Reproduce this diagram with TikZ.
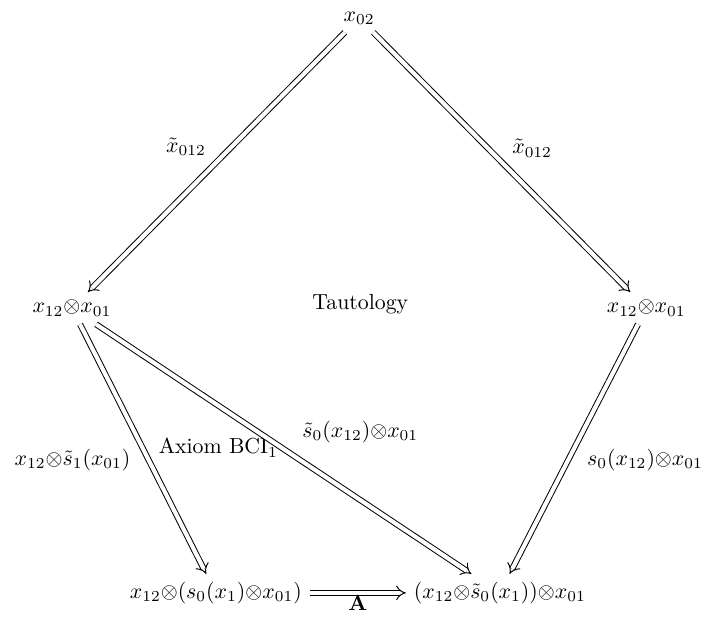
\documentclass[tikz,border=0pt]{standalone}
\usepackage{amsmath,amssymb}
\usetikzlibrary{arrows.meta,positioning,calc}

\begin{document}
\begin{tikzpicture}[
    obj/.style={inner sep=3.5pt},
    lbl/.style={inner sep=1pt},
    imp/.style={double,double distance=1.9pt,line width=0.45pt,-{Implies}}]
  \useasboundingbox (0,0) rectangle (11.40,9.95);
  \node[obj] (top) at (5.79,9.66) {$x_{02}$};
  \node[obj] (lft) at (1.16,4.98) {$x_{12}{\otimes}x_{01}$};
  \node[obj] (rgt) at (10.42,4.98) {$x_{12}{\otimes}x_{01}$};
  \node[obj] (bl) at (3.48,0.39) {$x_{12}{\otimes}(s_0(x_1){\otimes}x_{01})$};
  \node[obj] (br) at (8.06,0.39) {$(x_{12}{\otimes}\tilde{s}_0(x_1)){\otimes}x_{01}$};
  \node (taut) at (5.81,5.05) {Tautology};
  \node (bci) at (3.52,2.73) {Axiom BCI$_1$};
  % labels
  \node[lbl] (l1) at (3.00,7.58) {$\tilde{x}_{012}$};
  \node[lbl] (l2) at (8.58,7.56) {$\tilde{x}_{012}$};
  \node[lbl] (l3) at (1.17,2.53) {$x_{12}{\otimes}\tilde{s}_1(x_{01})$};
  \node[lbl] (l4) at (5.81,2.98) {$\tilde{s}_0(x_{12}){\otimes}x_{01}$};
  \node[lbl] (l5) at (10.40,2.53) {$s_0(x_{12}){\otimes}x_{01}$};
  \draw[imp] (top) -- (lft);
  \draw[imp] (top) -- (rgt);
  \draw[imp] (lft) -- (bl);
  \draw[imp] (lft) -- (br);
  \draw[imp] (rgt) -- (br);
  \draw[imp] (bl) -- node[below,lbl] (la) {$\mathbf{A}$} (br);
\end{tikzpicture}
\end{document}
